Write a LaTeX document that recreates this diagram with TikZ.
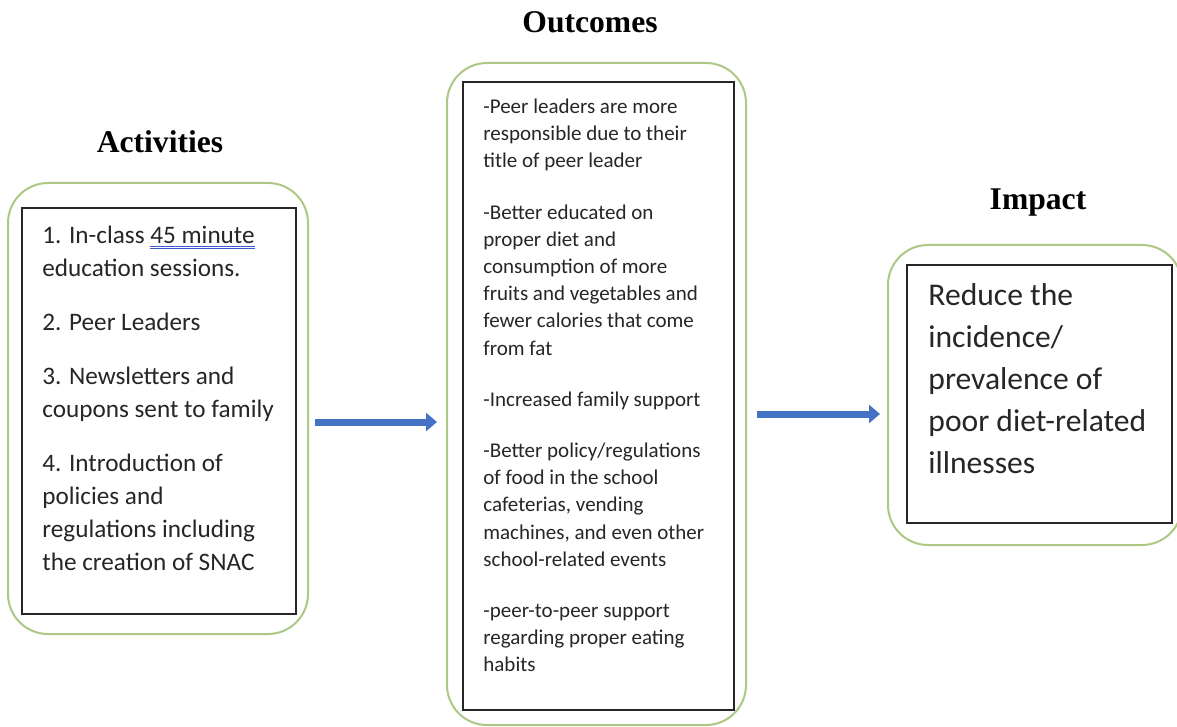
\documentclass[tikz,border=0pt]{standalone}
\usepackage{fontspec}
\setmainfont{Carlito}
\newfontfamily\titlefont{Liberation Serif}
\usetikzlibrary{arrows.meta}
\definecolor{boxgreen}{RGB}{172,200,132}
\definecolor{arrowblue}{RGB}{68,114,196}
\definecolor{txt}{RGB}{38,38,38}
\definecolor{ulblue}{RGB}{60,90,200}
\newcommand{\dblul}[1]{\begingroup\setbox0\hbox{#1}%
  \rlap{\color{ulblue}\raisebox{-1.6pt}{\rule{\wd0}{0.5pt}}}%
  \rlap{\color{ulblue}\raisebox{-3.0pt}{\rule{\wd0}{0.5pt}}}%
  \box0\endgroup}
\begin{document}
\begin{tikzpicture}[x=0.5pt,y=-0.5pt,
  greenbox/.style={draw=boxgreen,line width=1pt,rounded corners=20pt,inner sep=0pt},
  blackbox/.style={draw=black!85,line width=1pt,inner sep=0pt},
  titlelbl/.style={font=\titlefont\bfseries\fontsize{15.8pt}{18pt}\selectfont,text=black,inner sep=0pt},
  bodytxt/.style={anchor=north west,inner sep=0pt,align=left,text=txt},
  flowarrow/.style={draw=arrowblue,line width=3.5pt,-{Triangle[length=5.5pt,width=9pt]}}]
\useasboundingbox (0,0) rectangle (1177,727);
\fill[white] (0,0) rectangle (1177,727);

% titles
\node[titlelbl] (tact) at (160,142) {Activities};
\node[titlelbl] (tout) at (590,22) {Outcomes};
\node[titlelbl] (timp) at (1038,203) {Impact};

% Activities
\node[greenbox,minimum width=150pt,minimum height=225.5pt] (actg) at (158,408.5) {};
\node[blackbox,minimum width=137pt,minimum height=203pt] (actb) at (159,411) {};
\node[bodytxt,font=\fontsize{12.6pt}{16.5pt}\selectfont] (actt) at (42,223)
 {\rule{0pt}{10pt}1. In-class \dblul{45 minute}\\
  education sessions.\\[10.5pt]
  2. Peer Leaders\\[10.5pt]
  3. Newsletters and\\
  coupons sent to family\\[10.5pt]
  4. Introduction of\\
  policies and\\
  regulations including\\
  the creation of SNAC};

% Outcomes
\node[greenbox,minimum width=149.5pt,minimum height=331pt] (outg) at (596.5,394) {};
\node[blackbox,minimum width=135.5pt,minimum height=314pt] (outb) at (598.5,396) {};
\node[bodytxt,font=\fontsize{10.5pt}{13.6pt}\selectfont] (outt) at (483,95)
 {\rule{0pt}{9pt}-Peer leaders are more\\
  responsible due to their\\
  title of peer leader\\[12pt]
  -Better educated on\\
  proper diet and\\
  consumption of more\\
  fruits and vegetables and\\
  fewer calories that come\\
  from fat\\[12pt]
  -Increased family support\\[12pt]
  -Better policy/regulations\\
  of food in the school\\
  cafeterias, vending\\
  machines, and even other\\
  school-related events\\[12pt]
  -peer-to-peer support\\
  regarding proper eating\\
  habits};

% Impact
\begin{scope}
\clip (0,0) rectangle (1177,727);
\node[greenbox,minimum width=147pt,minimum height=150pt] (impg) at (1035,395) {};
\end{scope}
\node[blackbox,minimum width=132.5pt,minimum height=129pt] (impb) at (1039.5,394) {};
\node[bodytxt,font=\fontsize{15.8pt}{21pt}\selectfont] (impt) at (928,279)
 {\rule{0pt}{13pt}Reduce the\\
  incidence/\\
  prevalence of\\
  poor diet-related\\
  illnesses};

% arrows
\coordinate (a1s) at (315,422);
\coordinate (a1e) at (437,422);
\coordinate (a2s) at (757,414);
\coordinate (a2e) at (880,414);
\draw[flowarrow] (a1s) -- (a1e);
\draw[flowarrow] (a2s) -- (a2e);
\end{tikzpicture}
\end{document}
